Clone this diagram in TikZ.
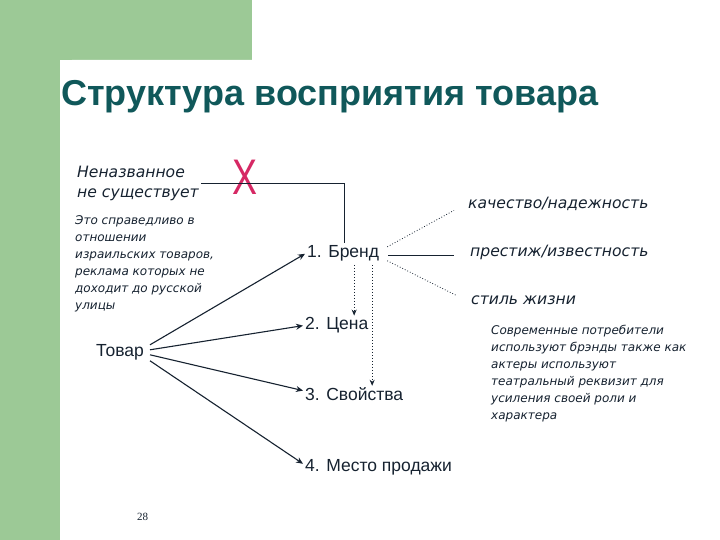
\documentclass[tikz,border=0pt]{standalone}
\usepackage{fontspec}
\setmainfont{Liberation Sans}
\newfontfamily\itfont{DejaVu Sans}
\newfontfamily\serifnum{Liberation Serif}
\usetikzlibrary{arrows.meta}
\definecolor{bandgreen}{RGB}{156,201,150}
\definecolor{titleteal}{RGB}{16,88,90}
\definecolor{txt}{RGB}{22,34,48}
\definecolor{crossred}{RGB}{214,40,100}
\tikzset{
  lbl/.style={inner sep=2pt, text=txt, font=\fontsize{17.5}{20}\selectfont},
  itl/.style={inner sep=2pt, text=txt, font=\itfont\itshape\fontsize{15.6}{20}\selectfont, align=left},
  note/.style={inner sep=2pt, text=txt, font=\itfont\itshape\fontsize{12}{17}\selectfont, align=left},
  conn/.style={draw=txt, line width=1.1pt},
  arr/.style={conn, -{Stealth[length=7pt,width=6pt]}},
  dotarr/.style={draw=txt, line width=1pt, dotted, -{Stealth[length=6pt,width=5pt]}},
  thin/.style={draw=txt, line width=0.8pt},
}
\begin{document}
\begin{tikzpicture}[x=1pt,y=-1pt]
\useasboundingbox (0,0) rectangle (720,540);
\fill[white] (0,0) rectangle (720,540);
\fill[bandgreen] (0,0) rectangle (252,60);
\fill[bandgreen] (0,0) rectangle (60,540);
\fill[white, rounded corners=12pt] (60,60) rectangle (740,560);

\node[anchor=base west, inner sep=0pt, text=titleteal, font=\bfseries\fontsize{36}{40}\selectfont] (title) at (61,106) {Структура восприятия товара};

\node[itl, anchor=base west] (nen) at (75,197) {Неназванное\\не существует};
\node[inner sep=0pt, text=crossred, font=\fontsize{50}{50}\selectfont] (cross) at (245,177) {\scalebox{0.75}[1]{X}};
\node[note, anchor=base west] (izr) at (73,309) {Это справедливо в\\отношении\\израильских товаров,\\реклама которых не\\доходит до русской\\улицы};

\node[lbl, anchor=base west] (tovar) at (94,356) {Товар};
\node[lbl, anchor=base west] (brand) at (305,257) {1. Бренд};
\node[lbl, anchor=base west] (price) at (303,329) {2. Цена};
\node[lbl, anchor=base west] (props) at (303,400) {3. Свойства};
\node[lbl, anchor=base west] (place) at (303,471) {4. Место продажи};

\node[itl, anchor=base west] (q1) at (466,208) {качество/надежность};
\node[itl, anchor=base west] (q2) at (468,256) {престиж/известность};
\node[itl, anchor=base west] (q3) at (469,304) {стиль жизни};

\node[note, anchor=base west] (cons) at (489,419) {Современные потребители\\используют брэнды также как\\актеры используют\\театральный реквизит для\\усиления своей роли и\\характера};

\node[anchor=base west, inner sep=0pt, text=txt, font=\serifnum\fontsize{11}{12}\selectfont] (num) at (137,520) {28};

% bracket from "Неназванное" to brand
\draw[conn, line width=0.9pt] ([yshift=-1pt]nen.east) -| ([xshift=1pt]brand.north);

% arrows from Товар
\draw[arr] ([xshift=4pt,yshift=7pt]tovar.east) -- ([yshift=-1pt]brand.west);
\draw[arr] ([xshift=4pt,yshift=2pt]tovar.east) -- ([yshift=-1pt]price.west);
\draw[arr] ([xshift=4pt,yshift=-3pt]tovar.east) -- ([yshift=3pt]props.west);
\draw[arr] ([xshift=4pt,yshift=-9pt]tovar.east) -- ([yshift=3pt]place.west);

% dotted arrows from brand
\draw[dotarr] ([xshift=11pt,yshift=-2pt]brand.south) -- ([xshift=11pt,yshift=-1pt]brand.south |- price.north);
\draw[dotarr] ([xshift=29pt,yshift=-2pt]brand.south) -- ([xshift=29pt,yshift=-1pt]brand.south |- props.north);

% brand to descriptors
\draw[thin, dotted] ([xshift=6pt,yshift=6pt]brand.east) -- ([xshift=-12pt,yshift=-7pt]q1.west);
\draw[thin] ([xshift=7pt,yshift=-3pt]brand.east) -- ([xshift=-14pt,yshift=-3pt]q2.west |- brand.east);
\draw[thin, dotted] ([xshift=6pt,yshift=-8pt]brand.east) -- ([xshift=-12pt,yshift=4pt]q3.west);
\end{tikzpicture}
\end{document}
